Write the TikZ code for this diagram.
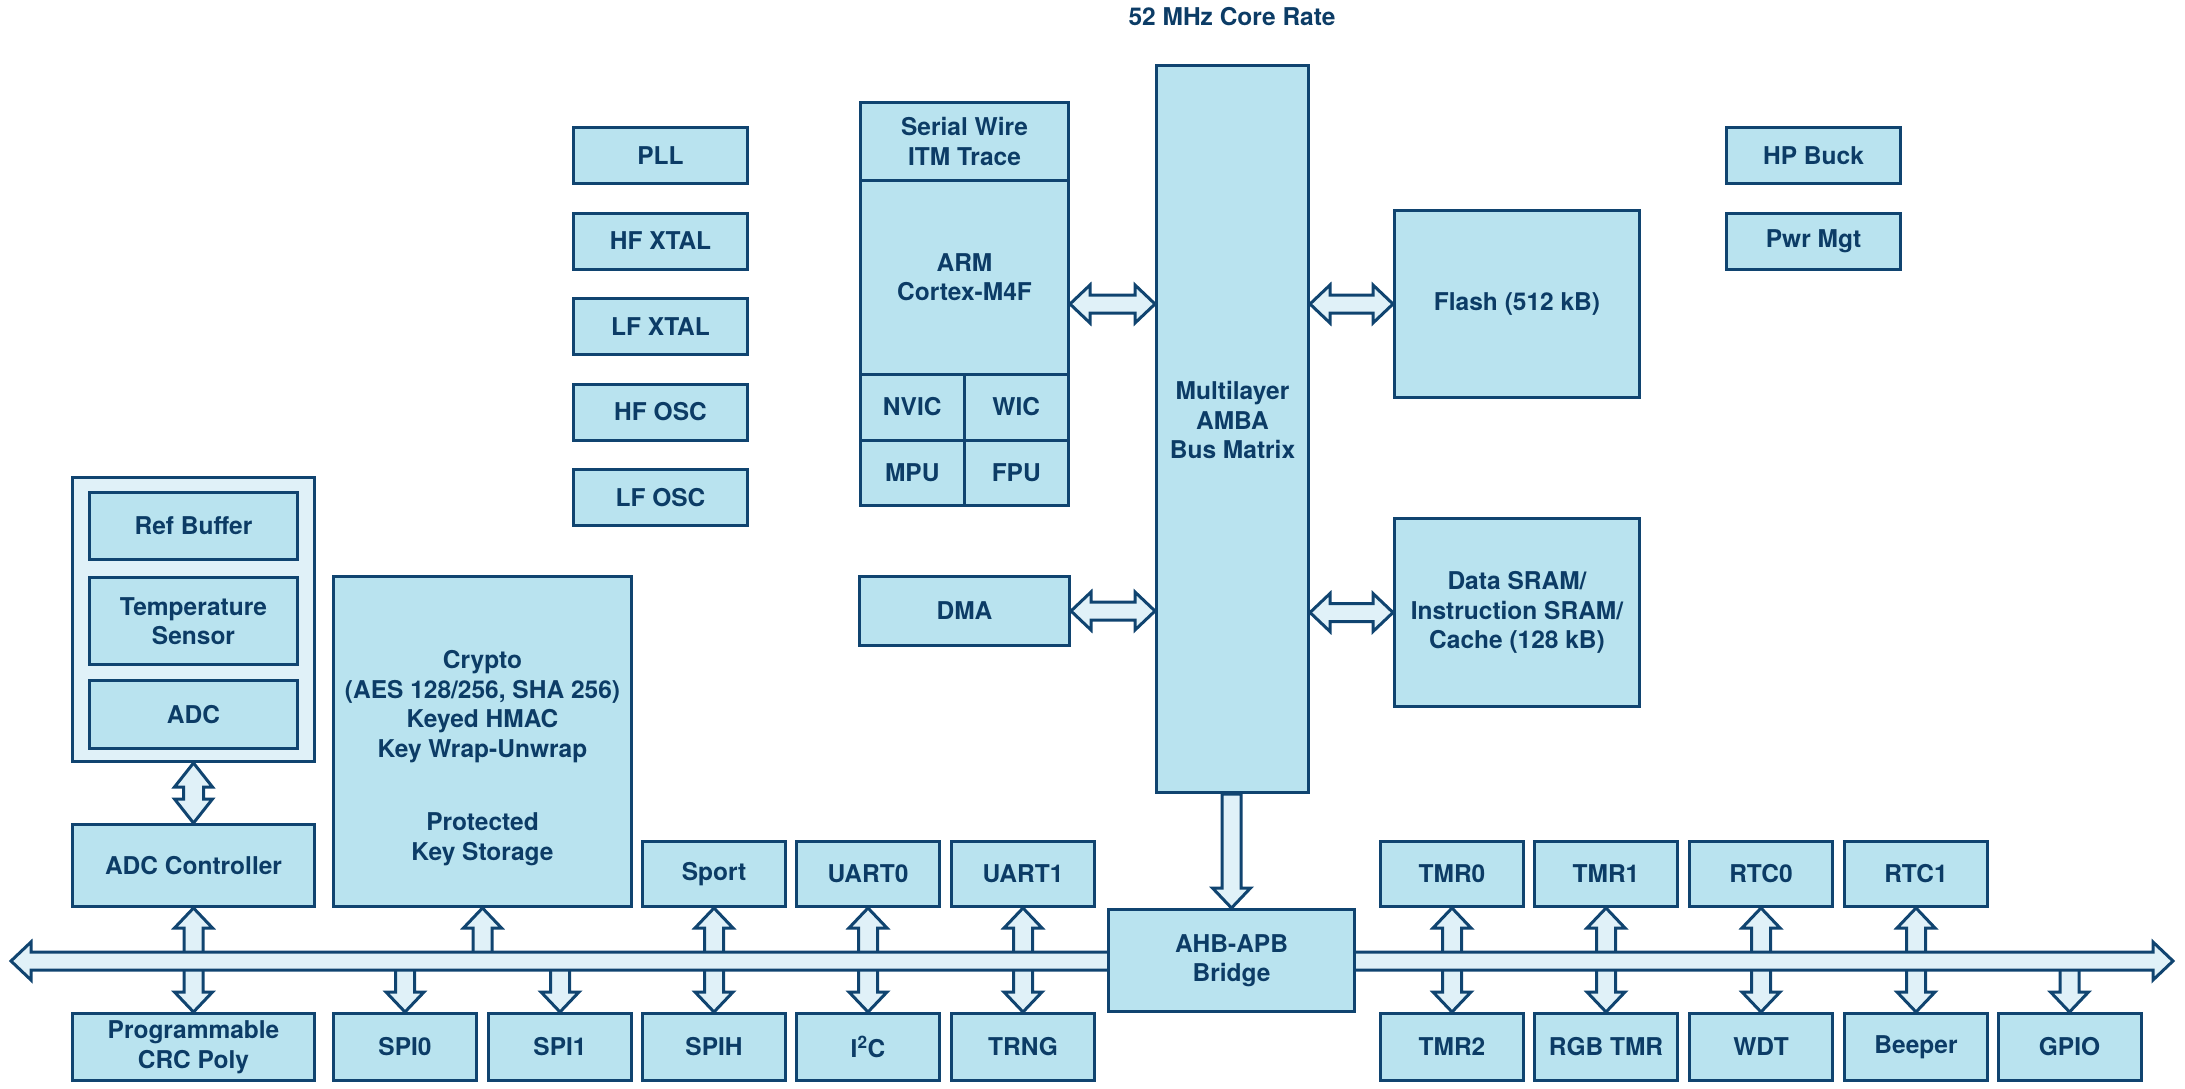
\documentclass[tikz,border=0pt]{standalone}
\usepackage{fontspec}
\setmainfont{TeX Gyre Heros}
\usetikzlibrary{calc}
\definecolor{dk}{RGB}{16,68,112}
\definecolor{txt}{RGB}{12,60,102}
\definecolor{lb}{RGB}{185,227,239}
\definecolor{lt}{RGB}{224,241,248}
\tikzset{
  box/.style={draw=dk, fill=lb, line width=3pt, inner sep=0pt, align=center,
    text=txt, font=\fontsize{24.5}{29.5}\selectfont\bfseries},
  grp/.style={box, fill=lt},
  lbl/.style={inner sep=0pt, align=center, text=txt, font=\fontsize{24.5}{29.5}\selectfont\bfseries},
  fatarrow/.style={draw=dk, fill=lt, line width=3pt, line join=miter},
}
% double-headed horizontal fat arrow, #1 left tip, #2 right tip
\newcommand\fatH[2]{\draw[fatarrow] let \p1=#1, \p2=#2 in
  (\x1,\y1) -- (\x1+20pt,\y1+19pt) -- (\x1+20pt,\y1+9pt) -- (\x2-20pt,\y1+9pt) -- (\x2-20pt,\y1+19pt)
  -- (\x2,\y1) -- (\x2-20pt,\y1-19pt) -- (\x2-20pt,\y1-9pt) -- (\x1+20pt,\y1-9pt) -- (\x1+20pt,\y1-19pt) -- cycle;}
% up arrow: #1 tail (below), #2 tip (above)
\newcommand\fatUp[2]{\draw[fatarrow] let \p1=#1, \p2=#2 in
  (\x2,\y2) -- (\x2+19pt,\y2-20pt) -- (\x2+9.5pt,\y2-20pt) -- (\x2+9.5pt,\y1) -- (\x2-9.5pt,\y1)
  -- (\x2-9.5pt,\y2-20pt) -- (\x2-19pt,\y2-20pt) -- cycle;}
% down arrow: #1 tail (above), #2 tip (below)
\newcommand\fatDown[2]{\draw[fatarrow] let \p1=#1, \p2=#2 in
  (\x2,\y2) -- (\x2+19pt,\y2+20pt) -- (\x2+9.5pt,\y2+20pt) -- (\x2+9.5pt,\y1) -- (\x2-9.5pt,\y1)
  -- (\x2-9.5pt,\y2+20pt) -- (\x2-19pt,\y2+20pt) -- cycle;}
% double vertical arrow: #1 top tip, #2 bottom tip
\newcommand\fatV[2]{\draw[fatarrow] let \p1=#1, \p2=#2 in
  (\x1,\y1) -- (\x1+19pt,\y1-24pt) -- (\x1+10pt,\y1-24pt) -- (\x1+10pt,\y2+24pt) -- (\x1+19pt,\y2+24pt)
  -- (\x1,\y2) -- (\x1-19pt,\y2+24pt) -- (\x1-10pt,\y2+24pt) -- (\x1-10pt,\y1-24pt) -- (\x1-19pt,\y1-24pt) -- cycle;}
\begin{document}
\begin{tikzpicture}[x=1pt,y=-1pt]
\useasboundingbox (0,0) rectangle (2185,1089);

\node[lbl] (title) at (1232,17) {52 MHz Core Rate};

% clocks
\foreach \nm/\t [count=\k from 0] in {pll/PLL, hfxtal/HF XTAL, lfxtal/LF XTAL, hfosc/HF OSC, lfosc/LF OSC}
  \node[box, minimum width=174pt, minimum height=56pt] (\nm) at (660.5,155.5+85.5*\k) {\t};

\node[box, minimum width=174pt, minimum height=56pt] (hpbuck) at (1813.5,155.5) {HP Buck};
\node[box, minimum width=174pt, minimum height=56pt] (pwrmgt) at (1813.5,241) {Pwr Mgt};

% Cortex
\node[box, minimum width=208pt, minimum height=77.5pt] (serial) at (964.5,141.25) {Serial Wire\\ITM Trace};
\node[box, minimum width=208pt, minimum height=194pt] (arm) at (964.5,277) {ARM\\Cortex-M4F};
\node[box, minimum width=103.5pt, minimum height=66pt] (nvic) at (912.25,407) {NVIC};
\node[box, minimum width=104.5pt, minimum height=66pt] (wic) at (1016.25,407) {WIC};
\node[box, minimum width=103.5pt, minimum height=65.5pt] (mpu) at (912.25,472.75) {MPU};
\node[box, minimum width=104.5pt, minimum height=65.5pt] (fpu) at (1016.25,472.75) {FPU};

\node[box, minimum width=210pt, minimum height=69pt] (dma) at (964.5,611) {DMA};

% bus matrix
\node[box, minimum width=152pt, minimum height=727pt] (matrix) at (1232.5,429) {};
\node[lbl] (matrixtxt) at (1232.5,420) {Multilayer\\AMBA\\Bus Matrix};

% memories
\node[box, minimum width=245pt, minimum height=187pt] (flash) at (1517,304) {Flash (512 kB)};
\node[box, minimum width=245pt, minimum height=188pt] (sram) at (1517,612.5) {Data SRAM/\\Instruction SRAM/\\Cache (128 kB)};

% ADC group
\node[grp, minimum width=242pt, minimum height=284pt] (adcgrp) at (193.5,619.5) {};
\node[box, minimum width=208pt, minimum height=67pt] (refbuf) at (193.5,526) {Ref Buffer};
\node[box, minimum width=208pt, minimum height=87pt] (temp) at (193.5,621) {Temperature\\Sensor};
\node[box, minimum width=208pt, minimum height=68pt] (adc) at (193.5,714.5) {ADC};
\node[box, minimum width=242pt, minimum height=82pt] (adcctl) at (193.5,865.5) {ADC Controller};

% crypto
\node[box, minimum width=298pt, minimum height=330pt] (crypto) at (482.5,741.5) {};
\node[lbl] (cryptotxt) at (482.5,758) {Crypto\\(AES 128/256, SHA 256)\\Keyed HMAC\\Key Wrap-Unwrap\\[44pt]Protected\\Key Storage};

% top row peripherals
\foreach \nm/\t/\xx in {sport/Sport/714, uart0/UART0/868, uart1/UART1/1023, tmr0/TMR0/1452, tmr1/TMR1/1606, rtc0/RTC0/1761, rtc1/RTC1/1916}
  \node[box, minimum width=143pt, minimum height=65pt] (\nm) at (\xx,874) {\t};

% bottom row
\node[box, minimum width=242pt, minimum height=67pt] (crc) at (193.5,1047) {Programmable\\CRC Poly};
\foreach \nm/\t/\xx in {spi0/SPI0/405, spi1/SPI1/560, spih/SPIH/714, i2c/I\textsuperscript{2}C/868, trng/TRNG/1023, tmr2/TMR2/1452, rgbtmr/RGB TMR/1606, wdt/WDT/1761, beeper/Beeper/1916, gpio/GPIO/2069.5}
  \node[box, minimum width=143pt, minimum height=67pt] (\nm) at (\xx,1047) {\t};

% bus coordinates
\coordinate (busL) at (11,961);
\coordinate (busR) at (2173,961);

% arrows to matrix
\fatH{(arm.east |- flash.center)}{(matrix.west |- flash.center)}
\fatH{(matrix.east |- flash.center)}{(flash.west)}
\fatH{(dma.east)}{(matrix.west |- dma.east)}
\fatH{(matrix.east |- sram.west)}{(sram.west)}

% ADC group to controller
\fatV{(adcgrp.south)}{(adcctl.north)}

% peripheral arrows (under the bus)
\foreach \nm in {adcctl, crypto, sport, uart0, uart1, tmr0, tmr1, rtc0, rtc1}
  \fatUp{(\nm.south |- busL)}{(\nm.south)};
\foreach \nm in {crc, spi0, spi1, spih, i2c, trng, tmr2, rgbtmr, wdt, beeper, gpio}
  \fatDown{(\nm.north |- busL)}{(\nm.north)};

% the bus
\fatH{(busL)}{(busR)}

% matrix to bridge
\node[box, minimum width=246pt, minimum height=102pt] (bridge) at (1231.5,960.5) {AHB-APB\\Bridge};
\fatDown{(matrix.south)}{(bridge.north)}
\end{tikzpicture}
\end{document}
